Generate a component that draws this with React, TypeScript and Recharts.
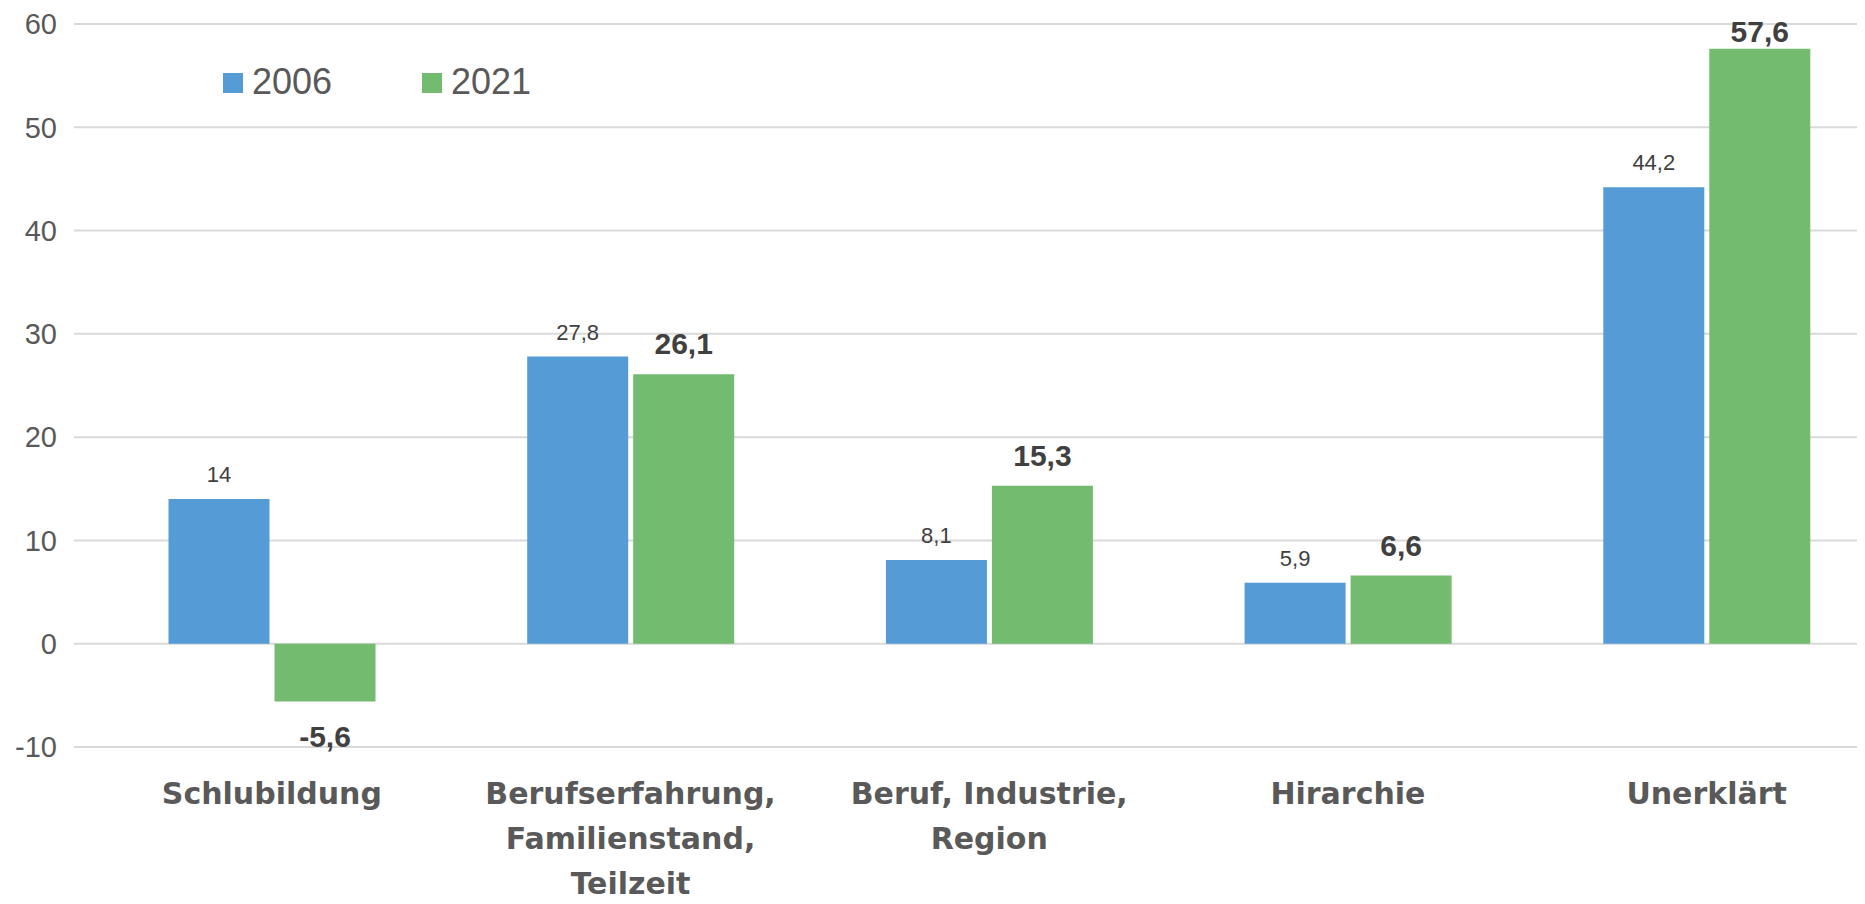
import React from 'react';
import { BarChart, Bar, XAxis, YAxis, CartesianGrid, Legend, LabelList } from 'recharts';

const categories = ['Schlubildung', 'Berufserfahrung,\nFamilienstand,\nTeilzeit', 'Beruf, Industrie,\nRegion', 'Hirarchie', 'Unerklärt'];
const values2006 = [14, 27.8, 8.1, 5.9, 44.2];
const values2021 = [-5.6, 26.1, 15.3, 6.6, 57.6];
const yTicks = [-10, 0, 10, 20, 30, 40, 50, 60];

const BLUE = '#559BD5';
const GREEN = '#72BB6F';
const GREY = '#595959';

const data = categories.map((name, i) => ({ name, v2006: values2006[i], v2021: values2021[i] }));

const fmt = (v: number) => String(v).replace('.', ',');

function CategoryTick(props: any) {
    const { x, y, payload } = props;
    const lines = String(payload.value).split('\n');
    return (
        <text
            x={x}
            y={y}
            textAnchor="middle"
            fill={GREY}
            style={{ fontFamily: 'DejaVu Sans', fontWeight: 'bold', fontSize: 30 }}
        >
            {lines.map((l, i) => (
                <tspan key={i} x={x} dy={i === 0 ? 49 : 45}>{l}</tspan>
            ))}
        </text>
    );
}

// labels of the 2021 series are bold and a bit larger, like in the original
const makeLabel = (bold: boolean) => (props: any) => {
    const vb = props.viewBox ?? props;
    const { x, y, width, height } = vb;
    const v = Number(props.value);
    const top = Math.min(y, y + height);
    const bottom = Math.max(y, y + height);
    const cx = x + width / 2;
    const ty = v < 0 ? bottom + 45 : Math.max(top - (bold ? 20 : 17), 34);
    return (
        <text
            x={cx}
            y={ty}
            textAnchor="middle"
            fill="#404040"
            style={bold
                ? { fontFamily: 'Liberation Sans, Arial', fontWeight: 'bold', fontSize: 30 }
                : { fontFamily: 'Liberation Sans, Arial', fontSize: 22 }}
        >
            {fmt(v)}
        </text>
    );
};

function LegendContent(props: any) {
    const items = props.payload && props.payload.length
        ? props.payload
        : [{ value: '2006', color: BLUE }, { value: '2021', color: GREEN }];
    return (
        <div style={{ position: 'relative', height: 0 }}>
            {items.map((it: any, i: number) => (
                <div key={i}>
                    <div style={{ position: 'absolute', left: 215 + i * 199, top: 65, width: 20, height: 20, background: it.color }} />
                    <span
                        style={{
                            position: 'absolute',
                            left: 244 + i * 199,
                            top: 56,
                            fontFamily: 'Liberation Sans, Arial',
                            fontSize: 36,
                            lineHeight: '36px',
                            color: GREY,
                            whiteSpace: 'nowrap',
                        }}
                    >
                        {it.value}
                    </span>
                </div>
            ))}
        </div>
    );
}

export default function App() {
    return (
        <div style={{ width: 1857, height: 896, overflow: 'hidden', background: '#fff' }}>
            <style>{'body{overflow:hidden}'}</style>
            <BarChart
                width={1878}
                height={896}
                data={data}
                margin={{ top: 16, right: 0, bottom: 0, left: 0 }}
                barSize={101}
                barGap={5}
            >
                <CartesianGrid vertical={false} stroke="#d9d9d9" strokeWidth={2} />
                <XAxis
                    dataKey="name"
                    height={157}
                    axisLine={false}
                    tickLine={false}
                    interval={0}
                    padding={{ left: 18.5, right: 0 }}
                    tick={<CategoryTick />}
                />
                <YAxis
                    width={66}
                    domain={[-10, 60]}
                    ticks={yTicks}
                    interval={0}
                    axisLine={false}
                    tickLine={false}
                    tickMargin={11}
                    tick={{ fill: GREY, fontSize: 29, fontFamily: 'Liberation Sans, Arial' }}
                />
                <Legend content={<LegendContent />} wrapperStyle={{ left: 0, top: 0, width: 1878, height: 0 }} />
                <Bar dataKey="v2006" name="2006" fill={BLUE} isAnimationActive={false}>
                    <LabelList dataKey="v2006" content={makeLabel(false)} />
                </Bar>
                <Bar dataKey="v2021" name="2021" fill={GREEN} isAnimationActive={false}>
                    <LabelList dataKey="v2021" content={makeLabel(true)} />
                </Bar>
            </BarChart>
        </div>
    );
}
